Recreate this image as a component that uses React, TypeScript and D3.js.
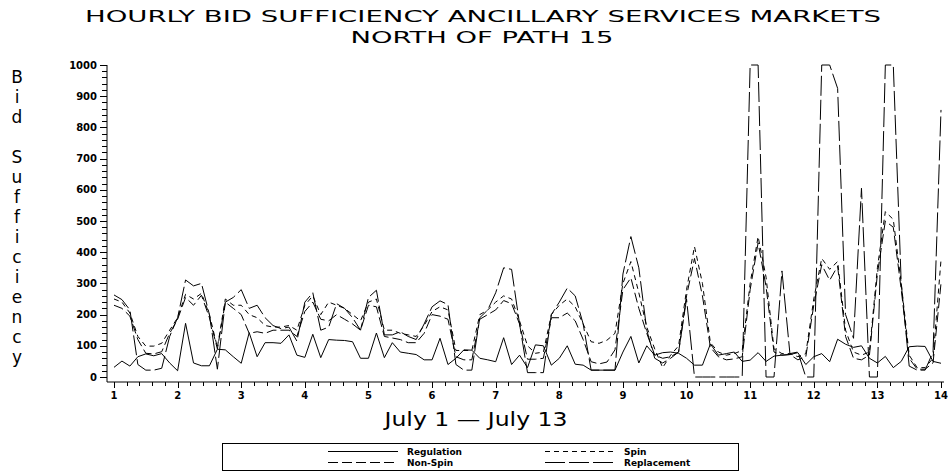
import React from 'react';
import * as d3 from 'd3';

// ---- data: one value every 3 hours, July 1 (day 1) to day 14 ----
const STEPS_PER_DAY = 8;

const regulation = [
  31, 51, 35, 65, 74, 68, 75, 45,
  20, 172, 45, 36, 36, 89, 87, 65,
  44, 142, 65, 110, 110, 108, 135, 70,
  63, 137, 62, 120, 118, 117, 113, 60,
  60, 141, 62, 110, 80, 76, 72, 55,
  55, 124, 40, 60, 87, 86, 60, 55,
  49, 126, 40, 70, 30, 103, 100, 38,
  60, 100, 41, 38, 22, 22, 22, 22,
  80, 130, 45, 100, 70, 78, 80, 76,
  60, 38, 38, 106, 70, 75, 80, 50,
  54, 78, 50, 67, 70, 72, 78, 40,
  65, 75, 49, 121, 105, 95, 100, 60,
  45, 66, 30, 50, 97, 99, 98, 50,
  44,
];

const spin = [
  250, 240, 205, 130, 99, 99, 108, 150,
  190, 265, 250, 268, 200, 95, 250, 230,
  230, 200, 190, 165, 160, 160, 165, 150,
  230, 260, 200, 240, 230, 220, 200, 180,
  240, 250, 150, 150, 140, 135, 130, 165,
  210, 225, 215, 85, 85, 85, 200, 215,
  240, 260, 250, 180, 100, 76, 80, 200,
  230, 250, 225, 170, 113, 108, 118, 140,
  300, 370, 270, 160, 90, 30, 70, 100,
  280, 418, 300, 110, 80, 70, 75, 85,
  300, 450, 320, 90, 75, 75, 65, 75,
  250, 380, 345, 370, 150, 80, 70, 80,
  350, 530, 505, 300, 70, 30, 30, 60,
  375,
];

const nonSpin = [
  230, 220, 195, 120, 76, 74, 81, 140,
  185, 255, 230, 262, 190, 90, 240, 220,
  200, 140, 145, 140, 150, 150, 150, 130,
  210, 240, 185, 180, 200, 185, 170, 150,
  230, 225, 130, 125, 120, 110, 110, 140,
  200, 195, 185, 65, 55, 55, 185, 200,
  215, 245, 235, 170, 57, 57, 60, 190,
  190, 205, 180, 120, 49, 42, 48, 87,
  280, 318, 220, 140, 70, 60, 65, 80,
  260, 380, 260, 95, 65, 55, 58, 65,
  280, 430, 290, 80, 70, 72, 55, 65,
  230, 360, 310, 355, 130, 60, 55, 70,
  330, 500, 480, 280, 60, 25, 25, 45,
  300,
];

const replacement = [
  263, 248, 215, 40, 22, 22, 28, 130,
  190, 311, 292, 300, 200, 25, 240, 255,
  280, 220, 230, 190, 165, 155, 160, 115,
  240, 270, 150, 160, 235, 220, 190, 150,
  255, 278, 135, 135, 145, 130, 120, 170,
  225, 244, 232, 40, 22, 22, 190, 215,
  270, 350, 345, 170, 14, 14, 14, 200,
  240, 285, 260, 170, 22, 22, 22, 22,
  330, 450, 350, 150, 60, 45, 60, 80,
  250, 0, 0, 0, 0, 0, 0, 0,
  1000, 1000, 0, 0, 340, 75, 80, 0,
  0, 1000, 1000, 925, 200, 124, 605, 0,
  0, 1000, 1000, 300, 35, 22, 22, 80,
  856,
];

const xTickLabels = ['1', '2', '3', '4', '5', '6', '7', '8', '9', '10', '11', '12', '13', '14'];
const yTickValues = [0, 100, 200, 300, 400, 500, 600, 700, 800, 900, 1000];

const titleLine1 = 'HOURLY BID SUFFICIENCY ANCILLARY SERVICES MARKETS';
const titleLine2 = 'NORTH OF PATH 15';
const xAxisTitle = 'July 1 \u2014 July 13';
const yAxisTitle = 'Bid Sufficiency';

const seriesDefs = [
  { name: 'Regulation', values: regulation, dash: '' },
  { name: 'Spin', values: spin, dash: '5,4' },
  { name: 'Non-Spin', values: nonSpin, dash: '10,4' },
  { name: 'Replacement', values: replacement, dash: '20,4' },
];

export default function App() {
  const x = d3.scaleLinear().domain([1, 14]).range([114, 941]);
  const y = d3.scaleLinear().domain([0, 1000]).range([377, 65]);
  const axisY = 382;
  const axisX = 107;

  const times = regulation.map((_, i) => 1 + i / STEPS_PER_DAY);
  const lineGen = d3
    .line<number>()
    .x((_, i) => x(times[i]))
    .y((d) => y(d));

  const xMinor = d3.range(1, 14.001, 0.2);
  const yMinor = d3.range(0, 1000.001, 20);

  const tickFont = { fontFamily: 'DejaVu Sans', fontWeight: 'bold' as const, fontSize: 10 };
  const textFont = { fontFamily: 'DejaVu Sans', fontWeight: 400 };

  const legend = [
    { s: seriesDefs[0], x0: 328, yy: 451 },
    { s: seriesDefs[1], x0: 545, yy: 451 },
    { s: seriesDefs[2], x0: 328, yy: 462 },
    { s: seriesDefs[3], x0: 545, yy: 462 },
  ];

  return (
    <svg
      width={949}
      height={474}
      style={{ position: 'absolute', left: 0, top: 0, background: '#fff' }}
    >
      <rect x={0} y={0} width={949} height={474} fill="#fff" />
      <text
        x={483}
        y={22}
        textAnchor="middle"
        {...textFont}
        fontSize={15}
        textLength={796}
        lengthAdjust="spacingAndGlyphs"
        fill="#000"
      >
        {titleLine1}
      </text>
      <text
        x={482}
        y={43}
        textAnchor="middle"
        {...textFont}
        fontSize={15}
        textLength={263}
        lengthAdjust="spacingAndGlyphs"
        fill="#000"
      >
        {titleLine2}
      </text>

      {yAxisTitle.split('').map((ch, i) => (
        <text
          key={i}
          x={17}
          y={83 + i * 20}
          textAnchor="middle"
          {...textFont}
          fontSize={17}
          fill="#000"
        >
          {ch}
        </text>
      ))}

      <line x1={axisX} y1={65} x2={axisX} y2={axisY} stroke="#000" strokeWidth={1} />
      <line x1={axisX} y1={axisY} x2={944} y2={axisY} stroke="#000" strokeWidth={1} />
      {yMinor.map((v) => (
        <line
          key={'ym' + v}
          x1={axisX - (v % 100 === 0 ? 7 : 5)}
          x2={axisX}
          y1={Math.round(y(v)) + 0.5}
          y2={Math.round(y(v)) + 0.5}
          stroke="#000"
          strokeWidth={1}
        />
      ))}
      {yTickValues.map((v) => (
        <text key={'yl' + v} x={97} y={y(v) + 3.5} textAnchor="end" {...tickFont} fill="#000">
          {v}
        </text>
      ))}
      {xMinor.map((d, i) => (
        <line
          key={'xm' + i}
          x1={Math.round(x(d)) + 0.5}
          x2={Math.round(x(d)) + 0.5}
          y1={axisY}
          y2={axisY + (i % 5 === 0 ? 6 : 4)}
          stroke="#000"
          strokeWidth={1}
        />
      ))}
      {xTickLabels.map((lab, i) => (
        <text key={'xl' + i} x={x(i + 1)} y={399} textAnchor="middle" {...tickFont} fill="#000">
          {lab}
        </text>
      ))}
      <text
        x={476}
        y={426}
        textAnchor="middle"
        {...textFont}
        fontSize={19}
        textLength={183}
        lengthAdjust="spacingAndGlyphs"
        fill="#000"
      >
        {xAxisTitle}
      </text>

      {seriesDefs.map((s) => (
        <path
          key={s.name}
          d={lineGen(s.values) || ''}
          fill="none"
          stroke="#000"
          strokeWidth={1}
          strokeDasharray={s.dash || undefined}
        />
      ))}

      <rect x={222.5} y={443.5} width={516} height={27} fill="none" stroke="#000" strokeWidth={1} />
      {legend.map(({ s, x0, yy }) => (
        <g key={'lg' + s.name}>
          <line
            x1={x0}
            x2={x0 + 70}
            y1={yy + 0.5}
            y2={yy + 0.5}
            stroke="#000"
            strokeWidth={1}
            strokeDasharray={s.dash || undefined}
          />
          <text x={x0 + 79} y={yy + 3.5} fontFamily="DejaVu Sans" fontWeight="bold" fontSize={9} fill="#000">
            {s.name}
          </text>
        </g>
      ))}
    </svg>
  );
}
